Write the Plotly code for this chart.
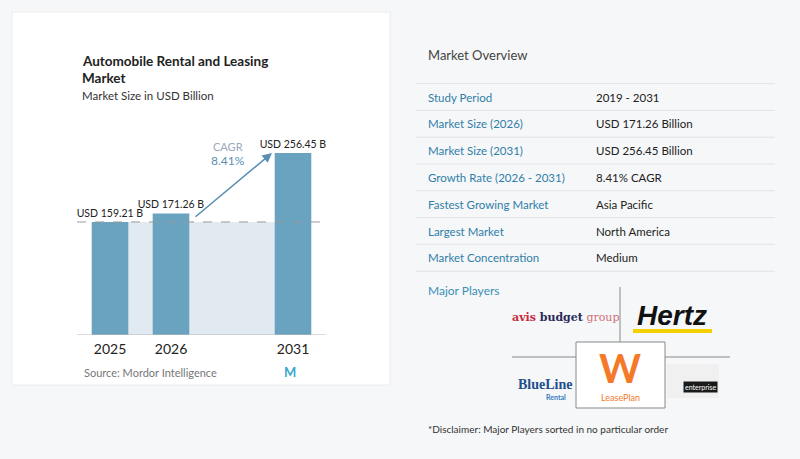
import plotly.graph_objects as go

years = ["2025", "2026", "2031"]
positions = [0, 1, 3]
values = [159.21, 171.26, 256.45]
value_labels = ["USD 159.21 B", "USD 171.26 B", "USD 256.45 B"]
cagr = "8.41%"
row_labels = ["Study Period", "Market Size (2026)", "Market Size (2031)", "Growth Rate (2026 - 2031)",
              "Fastest Growing Market", "Largest Market", "Market Concentration"]
row_values = ["2019 - 2031", "USD 171.26 Billion", "USD 256.45 Billion", "8.41% CAGR",
              "Asia Pacific", "North America", "Medium"]

W, H = 800, 459
def px(x): return x / W
def py(y): return 1 - y / H

fig = go.Figure()
fig.add_trace(go.Bar(x=positions, y=values, width=0.6, marker=dict(color="#6aa3c0", line=dict(width=0)),
                     text=value_labels, textposition="outside", cliponaxis=False, constraintext="none",
                     textfont=dict(size=10.5, color="#222", family="Lato")))

shapes, ann = [], []
shapes.append(dict(type="rect", xref="paper", yref="paper", x0=px(12), x1=px(390), y0=py(385), y1=py(12),
                   fillcolor="white", line=dict(color="#ececec", width=1), layer="below"))
shapes.append(dict(type="rect", xref="x", yref="y", x0=0, x1=3, y0=0, y1=values[0],
                   fillcolor="#e1eaf1", line=dict(width=0), layer="below"))
shapes.append(dict(type="line", xref="paper", yref="y", x0=px(77), x1=px(328), y0=values[0], y1=values[0],
                   line=dict(color="#999", width=1, dash="dash")))
shapes.append(dict(type="line", xref="paper", yref="y", x0=px(77), x1=px(326), y0=0, y1=0,
                   line=dict(color="#bbb", width=1)))

ann += [
    dict(text="<b>Automobile Rental and Leasing</b>", x=px(80), y=py(61), font=dict(size=13.5, color="#222")),
    dict(text="<b>Market</b>", x=px(80), y=py(78), font=dict(size=13.5, color="#222")),
    dict(text="Market Size in USD Billion", x=px(80), y=py(95), font=dict(size=11.5, color="#333")),
    dict(text="Source: Mordor Intelligence", x=px(82), y=py(372), font=dict(size=11, color="#777")),
    dict(text="<b>M</b>", x=px(290), y=py(372), xanchor="center", font=dict(size=13, color="#3aa7c9")),
    dict(text="CAGR", x=px(228), y=py(146), xanchor="center", font=dict(size=11, color="#9ab")),
    dict(text=cagr, x=px(228), y=py(160), xanchor="center", font=dict(size=12, color="#5a8fb3")),
    dict(text="Market Overview", x=px(426), y=py(55), font=dict(size=13, color="#444")),
    dict(text="Major Players", x=px(426), y=py(290), font=dict(size=12, color="#3a8fb7")),
    dict(text="*Disclaimer: Major Players sorted in no particular order", x=px(426), y=py(429), font=dict(size=10, color="#333")),
    dict(text="<b><span style='color:#c8283e'>avis</span> <span style='color:#2a2a5a'>budget</span></b> <span style='color:#d0707a'>group</span>",
         x=px(565), y=py(317), xanchor="center", font=dict(size=11, family="DejaVu Serif")),
    dict(text="<b><i>Hertz</i></b>", x=px(672), y=py(315), xanchor="center", font=dict(size=28, color="#111", family="Liberation Sans")),
    dict(text="<b>BlueLine</b>", x=px(545), y=py(384), xanchor="center", font=dict(size=14, color="#1f4e8c", family="Liberation Sans Narrow")),
    dict(text="<b>Rental</b>", x=px(556), y=py(397), xanchor="center", font=dict(size=7, color="#3a7ac0")),
    dict(text="<b>W</b>", x=px(620), y=py(368), xanchor="center", font=dict(size=40, color="#f47a2a")),
    dict(text="LeasePlan", x=px(620), y=py(397), xanchor="center", font=dict(size=9, color="#f47a2a")),
    dict(text="enterprise", x=px(700), y=py(387), xanchor="center", font=dict(size=7, color="white"), bgcolor="#1a1a1a"),
]
shapes.append(dict(type="rect", xref="paper", yref="paper", x0=px(667), x1=px(719), y0=py(398), y1=py(364),
                   fillcolor="#f0f0f0", line=dict(width=0)))
shapes.append(dict(type="rect", xref="paper", yref="paper", x0=px(633), x1=px(712), y0=py(333), y1=py(329),
                   fillcolor="#f5d000", line=dict(width=0)))
for (x0, y0, x1, y1) in [(620, 287, 620, 342), (512, 357, 576, 357), (665, 357, 730, 357)]:
    shapes.append(dict(type="line", xref="paper", yref="paper", x0=px(x0), x1=px(x1), y0=py(y0), y1=py(y1),
                       line=dict(color="#888", width=1)))
shapes.append(dict(type="rect", xref="paper", yref="paper", x0=px(576), x1=px(665), y0=py(408), y1=py(342),
                   fillcolor="white", line=dict(color="#888", width=1), layer="below"))

for i, (l, v) in enumerate(zip(row_labels, row_values)):
    yy = 97 + i * 26.8
    ann.append(dict(text=l, x=px(426), y=py(yy), font=dict(size=11.5, color="#2f7ea8")))
    ann.append(dict(text=v, x=px(594), y=py(yy), font=dict(size=11.5, color="#222")))
    shapes.append(dict(type="line", xref="paper", yref="paper", x0=px(416), x1=px(775), y0=py(yy + 13.4), y1=py(yy + 13.4),
                       line=dict(color="#e3e3e3", width=1)))
shapes.append(dict(type="line", xref="paper", yref="paper", x0=px(416), x1=px(775), y0=py(83.6), y1=py(83.6),
                   line=dict(color="#e3e3e3", width=1)))

for a in ann:
    a.update(xref="paper", yref="paper", showarrow=False, xanchor=a.get("xanchor", "left"), yanchor="middle")
    a["font"].setdefault("family", "Lato")
ann.append(dict(x=px(272), y=py(153), ax=-78, ay=65, xref="paper", yref="paper", axref="pixel", ayref="pixel",
                showarrow=True, arrowhead=2, arrowsize=1.2, arrowwidth=1.6, arrowcolor="#5a8fb3", text=""))

fig.update_layout(
    width=W, height=H, margin=dict(l=0, r=0, t=0, b=0), showlegend=False,
    paper_bgcolor="#f6f7f8", plot_bgcolor="rgba(0,0,0,0)",
    xaxis=dict(domain=[px(79.5), px(323.5)], range=[-0.5, 3.5], tickvals=positions, ticktext=years,
               showgrid=False, zeroline=False, showline=False, ticks="", ticklabelstandoff=4,
               tickfont=dict(size=14, color="#222", family="Lato")),
    yaxis=dict(domain=[py(335), py(100)], range=[0, 331], visible=False),
    shapes=shapes, annotations=ann,
)
fig.write_html("out.html", config={"displayModeBar": False})
with open("out.html", encoding="utf-8") as f:
    html = f.read()
html = html.replace("<head>", "<head><style>html,body{margin:0;padding:0;overflow:hidden;}</style>", 1)
with open("out.html", "w", encoding="utf-8") as f:
    f.write(html)
